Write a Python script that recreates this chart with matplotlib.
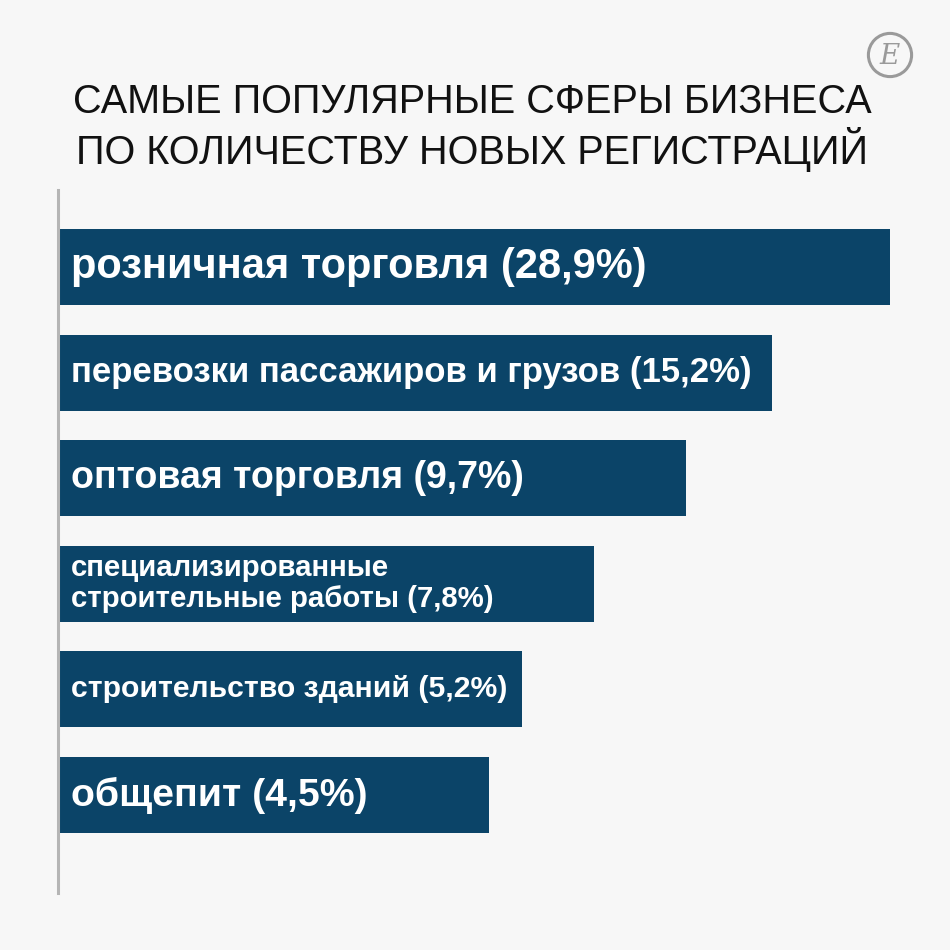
import matplotlib.pyplot as plt
from matplotlib.patches import Circle
import numpy as np

title_lines = ['САМЫЕ ПОПУЛЯРНЫЕ СФЕРЫ БИЗНЕСА', 'ПО КОЛИЧЕСТВУ НОВЫХ РЕГИСТРАЦИЙ']
labels = ['розничная торговля (28,9%)',
          'перевозки пассажиров и грузов (15,2%)',
          'оптовая торговля (9,7%)',
          'специализированные\nстроительные работы (7,8%)',
          'строительство зданий (5,2%)',
          'общепит (4,5%)']
shares = [28.9, 15.2, 9.7, 7.8, 5.2, 4.5]
# drawn bar lengths (not proportional to shares in the source picture)
bar_length = [832, 714, 628, 536, 464, 431]
label_sizes = [30, 25, 27, 21.2, 21.7, 28.3]

bg = '#f7f7f7'
bar_color = '#0b4468'

fig = plt.figure(figsize=(9.5, 9.5), dpi=100, facecolor=bg)
ax = fig.add_axes([58 / 950, 57 / 950, 892 / 950, 703 / 950])
ax.set_facecolor(bg)

y = np.arange(len(labels))
ax.barh(y, bar_length, height=0.72, color=bar_color, align='center')
for i, (lab, s) in enumerate(zip(labels, label_sizes)):
    ax.text(13, y[i], lab, color='white', fontsize=s, va='center', ha='left',
            fontweight='bold', family=['Liberation Sans', 'DejaVu Sans'], linespacing=1.12)

ax.set_xlim(0, 892)
ax.set_ylim(len(labels) - 1 + 0.928, -0.729)
for side in ['top', 'right', 'bottom']:
    ax.spines[side].set_visible(False)
ax.spines['left'].set_color('#b5b5b5')
ax.spines['left'].set_linewidth(2.2)
ax.set_xticks([])
ax.set_yticks([])

for k, line in enumerate(title_lines):
    fig.text(472 / 950, 1 - (102 + 48 * k) / 950, line, ha='center', va='center', fontsize=28.5,
             family=['Liberation Sans', 'DejaVu Sans'], color='#111111')

# logo
logo_ax = fig.add_axes([866 / 950, 1 - 79 / 950, 48 / 950, 48 / 950])
logo_ax.set_xlim(-1, 1)
logo_ax.set_ylim(-1, 1)
logo_ax.axis('off')
logo_ax.add_patch(Circle((0, 0), 0.9, fill=False, ec='#9a9a9a', lw=2.2))
logo_ax.text(0, -0.05, 'Е', ha='center', va='center', fontsize=20, style='italic',
             family='DejaVu Serif', color='#9a9a9a')

fig.savefig('out.png', dpi=100, facecolor=bg)
